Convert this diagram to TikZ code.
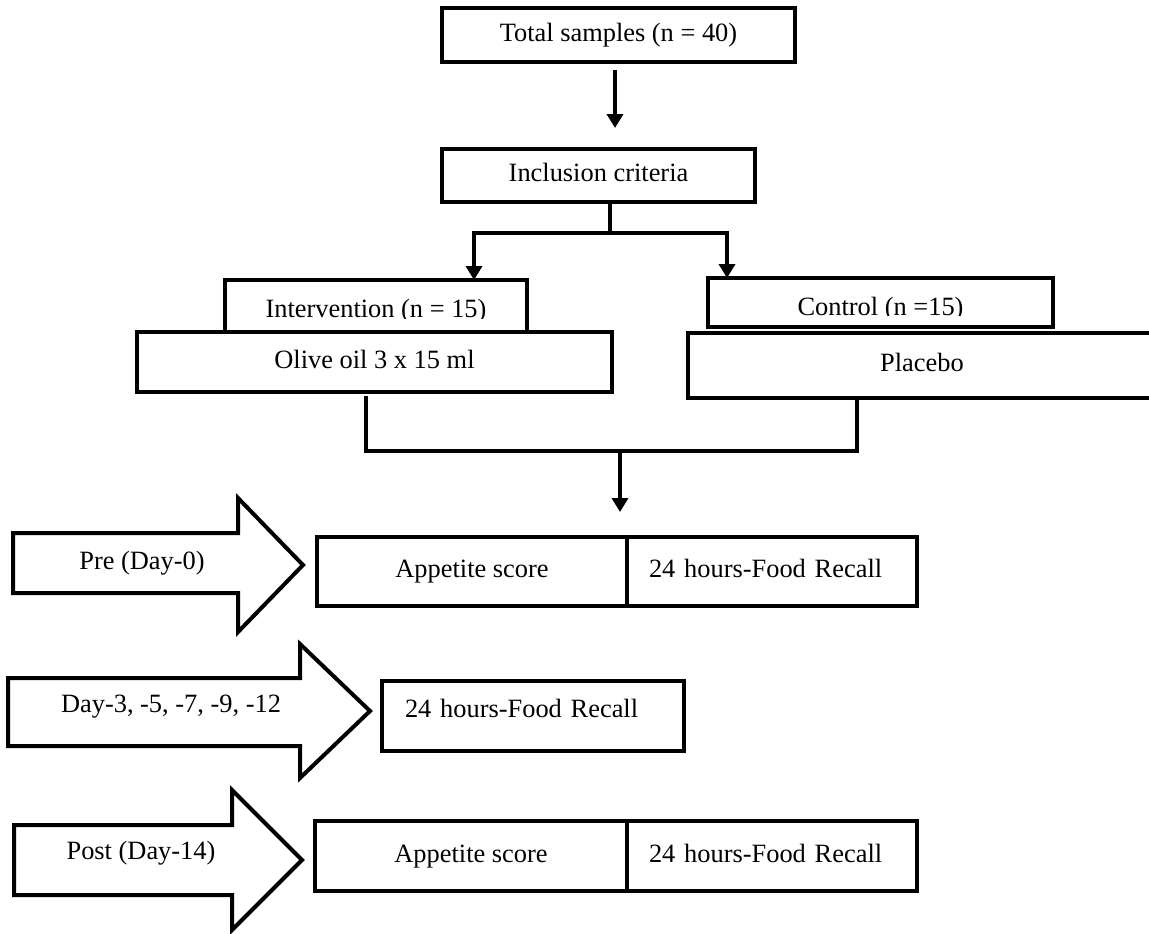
\documentclass[tikz,border=0pt]{standalone}
\usepackage{fontspec}
\setmainfont{Liberation Serif}
\usetikzlibrary{arrows.meta}
\begin{document}
\begin{tikzpicture}[x=0.5pt,y=-0.5pt,
  every node/.style={font=\fontsize{13.2}{15}\selectfont},
  box/.style={draw, line width=2pt, fill=white, inner sep=0pt, outer sep=0pt, text height=9pt, text depth=3pt},
  conn/.style={line width=2pt},
  arr/.style={line width=2pt, -{Triangle[width=8pt,length=7pt]}},
  blockarrow/.style={draw, line width=2pt, line join=miter, fill=white},
  plain/.style={inner sep=0pt, outer sep=0pt}]
\clip (0,0) rectangle (1149,933);
\fill[white] (0,0) rectangle (1149,933);

% top boxes
\node[box, minimum width=176.5pt, minimum height=27pt] (total) at (618.5,35) {Total samples (n = 40)};
\node[box, minimum width=156.5pt, minimum height=26.5pt] (incl) at (598.5,175.5) {Inclusion criteria};

\coordinate (a1) at (615,70);
\coordinate (a2) at (615,128);
\draw[arr] (a1) -- (a2);

% groups
\node[box, minimum width=151pt, minimum height=26pt] (interv) at (376,306) {};
\begin{scope}
  \clip (225,280) rectangle (527,318);
  \node[plain, anchor=base] (intervtxt) at (376,317) {Intervention (n = 15)};
\end{scope}
\node[box, minimum width=237.5pt, minimum height=30pt] (olive) at (374.5,362) {Olive oil 3 x 15 ml};

\node[box, minimum width=172.5pt, minimum height=24.5pt] (control) at (880.5,302.5) {};
\begin{scope}
  \clip (708,278) rectangle (1053,315);
  \node[plain, anchor=base] (controltxt) at (880.5,315) {Control (n =15)};
\end{scope}
\node[box, minimum width=234pt, minimum height=32.5pt] (placebo) at (922,365.5) {Placebo};

% split
\coordinate (split) at (610,233);
\draw[conn] (split |- incl.south) -- (split);
\draw[arr] (split) -| ([xshift=49pt]interv.north);
\draw[arr] (split) -| ([xshift=-76.75pt]control.north);

% merge
\coordinate (ml) at (366,451);
\coordinate (mr) at (857,451);
\draw[conn, line cap=rect] ([yshift=-3pt]olive.south -| ml) -- (ml) -- (mr) -- ([yshift=-1.5pt]placebo.south -| mr);
\coordinate (m1) at (620,453);
\coordinate (m2) at (620,512);
\draw[arr] (m1) -- (m2);

% block arrows
\draw[blockarrow] (13,533) -- (238,533) -- (238,498) -- (303,565) -- (238,632) -- (238,593) -- (13,593) -- cycle;
\node[plain] (pretxt) at (142,563) {Pre (Day-0)};
\draw[blockarrow] (8,678) -- (300,678) -- (300,644) -- (370,711) -- (300,778) -- (300,746) -- (8,746) -- cycle;
\node[plain] (daytxt) at (171,707) {Day-3, -5, -7, -9, -12};
\draw[blockarrow] (14,825) -- (232,825) -- (232,790) -- (302,860) -- (232,930) -- (232,895) -- (14,895) -- cycle;
\node[plain] (posttxt) at (141,853) {Post (Day-14)};

% row 1
\node[box, minimum width=155pt, minimum height=34.5pt] (app1) at (472,571.5) {Appetite score};
\node[box, minimum width=145pt, minimum height=34.5pt, text width=123pt, inner xsep=11pt, align=left] (rec1) at (772,571.5) {24 hours-Food Recall};
% row 2
\node[box, minimum width=151pt, minimum height=35pt, text width=128pt, inner xsep=11.5pt, align=left, text depth=8pt] (rec2) at (533,716) {24 hours-Food Recall};
% row 3
\node[box, minimum width=156pt, minimum height=35pt] (app3) at (471,856) {Appetite score};
\node[box, minimum width=145pt, minimum height=35pt, text width=123pt, inner xsep=11pt, align=left] (rec3) at (772,856) {24 hours-Food Recall};
\end{tikzpicture}
\end{document}
